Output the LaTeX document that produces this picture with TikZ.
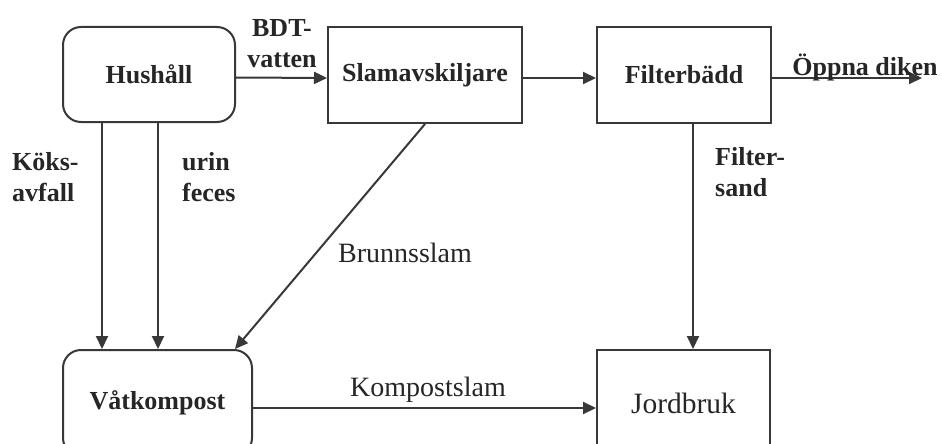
\documentclass[tikz,border=0pt]{standalone}
\usepackage{fontspec}
\setmainfont{Liberation Serif}
\usetikzlibrary{arrows.meta}
\begin{document}
\begin{tikzpicture}[x=1pt,y=-1pt,
  ink/.style={draw=black!78, line width=2pt},
  stepbox/.style={ink, inner sep=0pt, text=black!85,
    font=\fontsize{26}{30}\selectfont\bfseries},
  roundbox/.style={stepbox, rounded corners=18pt},
  flow/.style={ink, -{Triangle[length=13pt,width=12pt]}},
  lbl/.style={inner sep=0pt, text=black!85,
    font=\fontsize{26}{31}\selectfont\bfseries},
  lblr/.style={inner sep=0pt, text=black!85,
    font=\fontsize{28}{31}\selectfont}]
\clip (0,0) rectangle (940,444);

% process boxes
\node[roundbox, minimum width=172pt, minimum height=95pt] (hush) at (149,74.5) {Hushåll};
\node[stepbox, minimum width=194pt, minimum height=96pt] (slam) at (425,75) {Slamavskiljare};
\node[stepbox, minimum width=174pt, minimum height=96pt] (filt) at (684,75) {Filterbädd};
\node[roundbox, minimum width=189pt, minimum height=106pt] (vat) at (157.5,403) {Våtkompost};
\node[stepbox, minimum width=173pt, minimum height=106pt,
  font=\fontsize{29.5}{30}\selectfont] (jord) at (683.5,403) {Jordbruk};
\coordinate (dike) at (922,78);

% flows
\draw[flow] ([yshift=-3pt]hush.east) -- ([yshift=-3pt]slam.west);
\draw[flow] ([yshift=-3pt]slam.east) -- ([yshift=-3pt]filt.west);
\draw[flow] ([yshift=-3pt]filt.east) -- (dike);
\draw[flow] ([xshift=-47pt]hush.south) -- ([xshift=-47pt]hush.south |- vat.north);
\draw[flow] ([xshift=9pt]hush.south) -- ([xshift=9pt]hush.south |- vat.north);
\draw[flow] (slam.south) -- ([xshift=77.5pt]vat.north);
\draw[flow] ([xshift=9pt]filt.south) -- ([xshift=9pt]filt.south |- jord.north);
\draw[flow] ([yshift=-5pt]vat.east) -- ([yshift=-5pt]vat.east -| jord.west);

% flow labels
\node[lbl, align=center] (bdt) at (282,44) {BDT-\\vatten};
\node[lbl, align=left, anchor=west] (koks) at (12,177.5) {Köks-\\avfall};
\node[lbl, align=left, anchor=west] (urin) at (182,177.5) {urin\\feces};
\node[lblr] (brunn) at (405,253) {Brunnsslam};
\node[lbl, align=left, anchor=west] (fsand) at (715,172) {Filter-\\sand};
\node[lblr] (kompl) at (428,390) {Kompostslam};
\node[lbl] (oppna) at (865,67) {Öppna diken};
\end{tikzpicture}
\end{document}
